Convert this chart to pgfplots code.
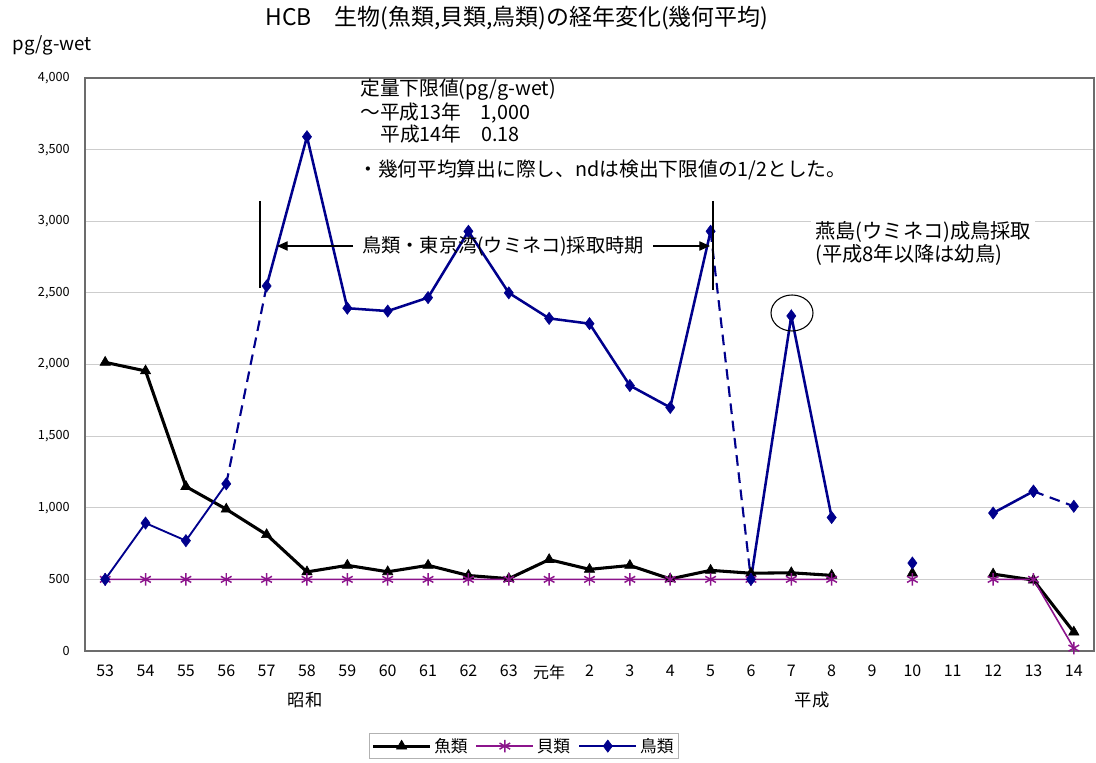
\documentclass[border=0pt]{standalone}
\usepackage{fontspec}
\setmainfont{Noto Sans CJK JP}
\usepackage{pgfplots}
\pgfplotsset{compat=1.18}
\usetikzlibrary{arrows.meta}
\definecolor{navy}{RGB}{0,0,140}
\definecolor{shellc}{RGB}{140,20,140}
\definecolor{gridc}{RGB}{205,205,205}
\begin{document}
\begin{tikzpicture}
\useasboundingbox (-63.75pt,-84pt) rectangle (758.25pt,488.25pt);
\begin{axis}[
 width=756.75pt, height=429.75pt, scale only axis,
 xmin=-0.5, xmax=24.5, ymin=0, ymax=4000,
 xtick={0,...,24},
 xticklabels={53,54,55,56,57,58,59,60,61,62,63,元年,2,3,4,5,6,7,8,9,10,11,12,13,14},
 ytick={0,500,...,4000},
 major tick length=0pt,
 ymajorgrids, grid style={gridc, line width=0.75pt},
 axis line style={draw=gray!85!black, line width=0.9pt},
 /pgf/number format/assume math mode=true,
 /pgf/number format/1000 sep={,},
 scaled y ticks=false,
 xticklabel style={font=\fontsize{12}{14}\selectfont},
 yticklabel style={font=\fontsize{9.5}{11}\selectfont},
 xticklabel shift=7pt, yticklabel shift=8pt,
 unbounded coords=jump,
 clip=false,
 legend columns=3,
 legend style={at={(0.435,-0.166)}, anchor=center, draw=gray!60, line width=0.6pt,
   font=\fontsize{12.5}{14}\selectfont,
   /tikz/every even column/.append style={column sep=4pt}, inner sep=1.5pt},
 legend image code/.code={\draw[mark repeat=2,mark phase=2,#1] plot coordinates {(0cm,0cm) (0.75cm,0cm) (1.5cm,0cm)};},
]
% fish
\addplot[black, line width=2.3pt, mark=triangle*, mark size=4.4pt, mark options={solid, line width=0.5pt}] table {
x y
0 2015
1 1955
2 1148
3 990
4 812
5 552
6 598
7 553
8 598
9 527
10 505
11 638
12 570
13 597
14 503
15 563
16 543
17 546
18 528
19 nan
20 543
21 nan
22 537
23 495
24 132
};
\addlegendentry{魚類}
% shellfish
\addplot[shellc, line width=1.2pt, mark=asterisk, mark size=4.6pt, mark options={solid, line width=1.1pt}] table {
x y
0 500
1 500
2 500
3 500
4 500
5 500
6 500
7 500
8 500
9 500
10 500
11 500
12 500
13 500
14 500
15 500
16 500
17 500
18 500
19 nan
20 500
21 nan
22 500
23 500
24 20
};
\addlegendentry{貝類}
% birds
\addplot[navy, line width=1.9pt, mark=diamond*, mark size=4.6pt, mark options={solid, line width=0.4pt}] table {
x y
4 2548
5 3590
6 2393
7 2373
8 2467
9 2930
10 2500
11 2322
12 2285
13 1853
14 1700
15 2930
};
\addlegendentry{鳥類}
\addplot[forget plot, navy, line width=1.4pt, mark=diamond*, mark size=4.6pt, mark options={solid, line width=0.4pt}] table {
x y
0 500
1 893
2 770
3 1167
};
\addplot[forget plot, navy, line width=1.6pt, dash pattern=on 8pt off 5pt] table {
x y
3 1167
4 2548
};
\addplot[forget plot, navy, line width=1.6pt, dash pattern=on 8pt off 5pt] table {
x y
15 2930
16 500
};
\addplot[forget plot, navy, line width=1.9pt, mark=diamond*, mark size=4.6pt, mark options={solid, line width=0.4pt}] table {
x y
16 500
17 2339
18 932
19 nan
20 614
21 nan
22 963
23 1115
};
\addplot[forget plot, navy, line width=1.6pt, dash pattern=on 8pt off 5pt, mark=diamond*, mark size=4.6pt, mark options={solid, line width=0.4pt}] table {
x y
23 1115
24 1010
};
\end{axis}
% title and unit
\node[font=\fontsize{17.2}{19}\selectfont] at (324pt,474.75pt) {HCB　生物(魚類,貝類,鳥類)の経年変化(幾何平均)};
\node[anchor=west, font=\fontsize{14}{16}\selectfont] at (-57.75pt,454.5pt) {pg/g-wet};
% notes
\begin{scope}[every node/.style={anchor=west, inner sep=0pt, font=\fontsize{14.8}{16}\selectfont}]
\node at (206.25pt,420.75pt) {定量下限値(pg/g-wet)};
\node at (206.25pt,403.5pt) {～平成13年　1,000};
\node at (221.25pt,387.75pt) {平成14年　0.18};
\node at (204.75pt,360.75pt) {・幾何平均算出に際し、ndは検出下限値の1/2とした。};
\end{scope}
\node[anchor=west, fill=white, align=left, inner sep=3pt, font=\fontsize{15.2}{17.25}\selectfont] at (544.5pt,306pt) {燕島(ウミネコ)成鳥採取\\(平成8年以降は幼鳥)};
% sampling period
\draw[black, line width=0.8pt] (131.25pt,337.5pt) -- (131.25pt,272.25pt);
\draw[black, line width=0.8pt] (471pt,337.5pt) -- (471pt,270.75pt);
\draw[black, line width=0.8pt, -{Triangle[length=8pt,width=7pt]}] (201pt,303.75pt) -- (144pt,303.75pt);
\draw[black, line width=0.8pt, -{Triangle[length=8pt,width=7pt]}] (426pt,303.75pt) -- (468.75pt,303.75pt);
\node[font=\fontsize{14.4}{16}\selectfont] at (313.5pt,303.75pt) {鳥類・東京湾(ウミネコ)採取時期};
\draw[black, line width=0.8pt] (530.25pt,253.5pt) ellipse [x radius=15.75pt, y radius=13.5pt];
% era labels
\node[font=\fontsize{13}{15}\selectfont] at (165pt,-36.75pt) {昭和};
\node[font=\fontsize{13}{15}\selectfont] at (545.25pt,-36.75pt) {平成};
\end{tikzpicture}
\end{document}
